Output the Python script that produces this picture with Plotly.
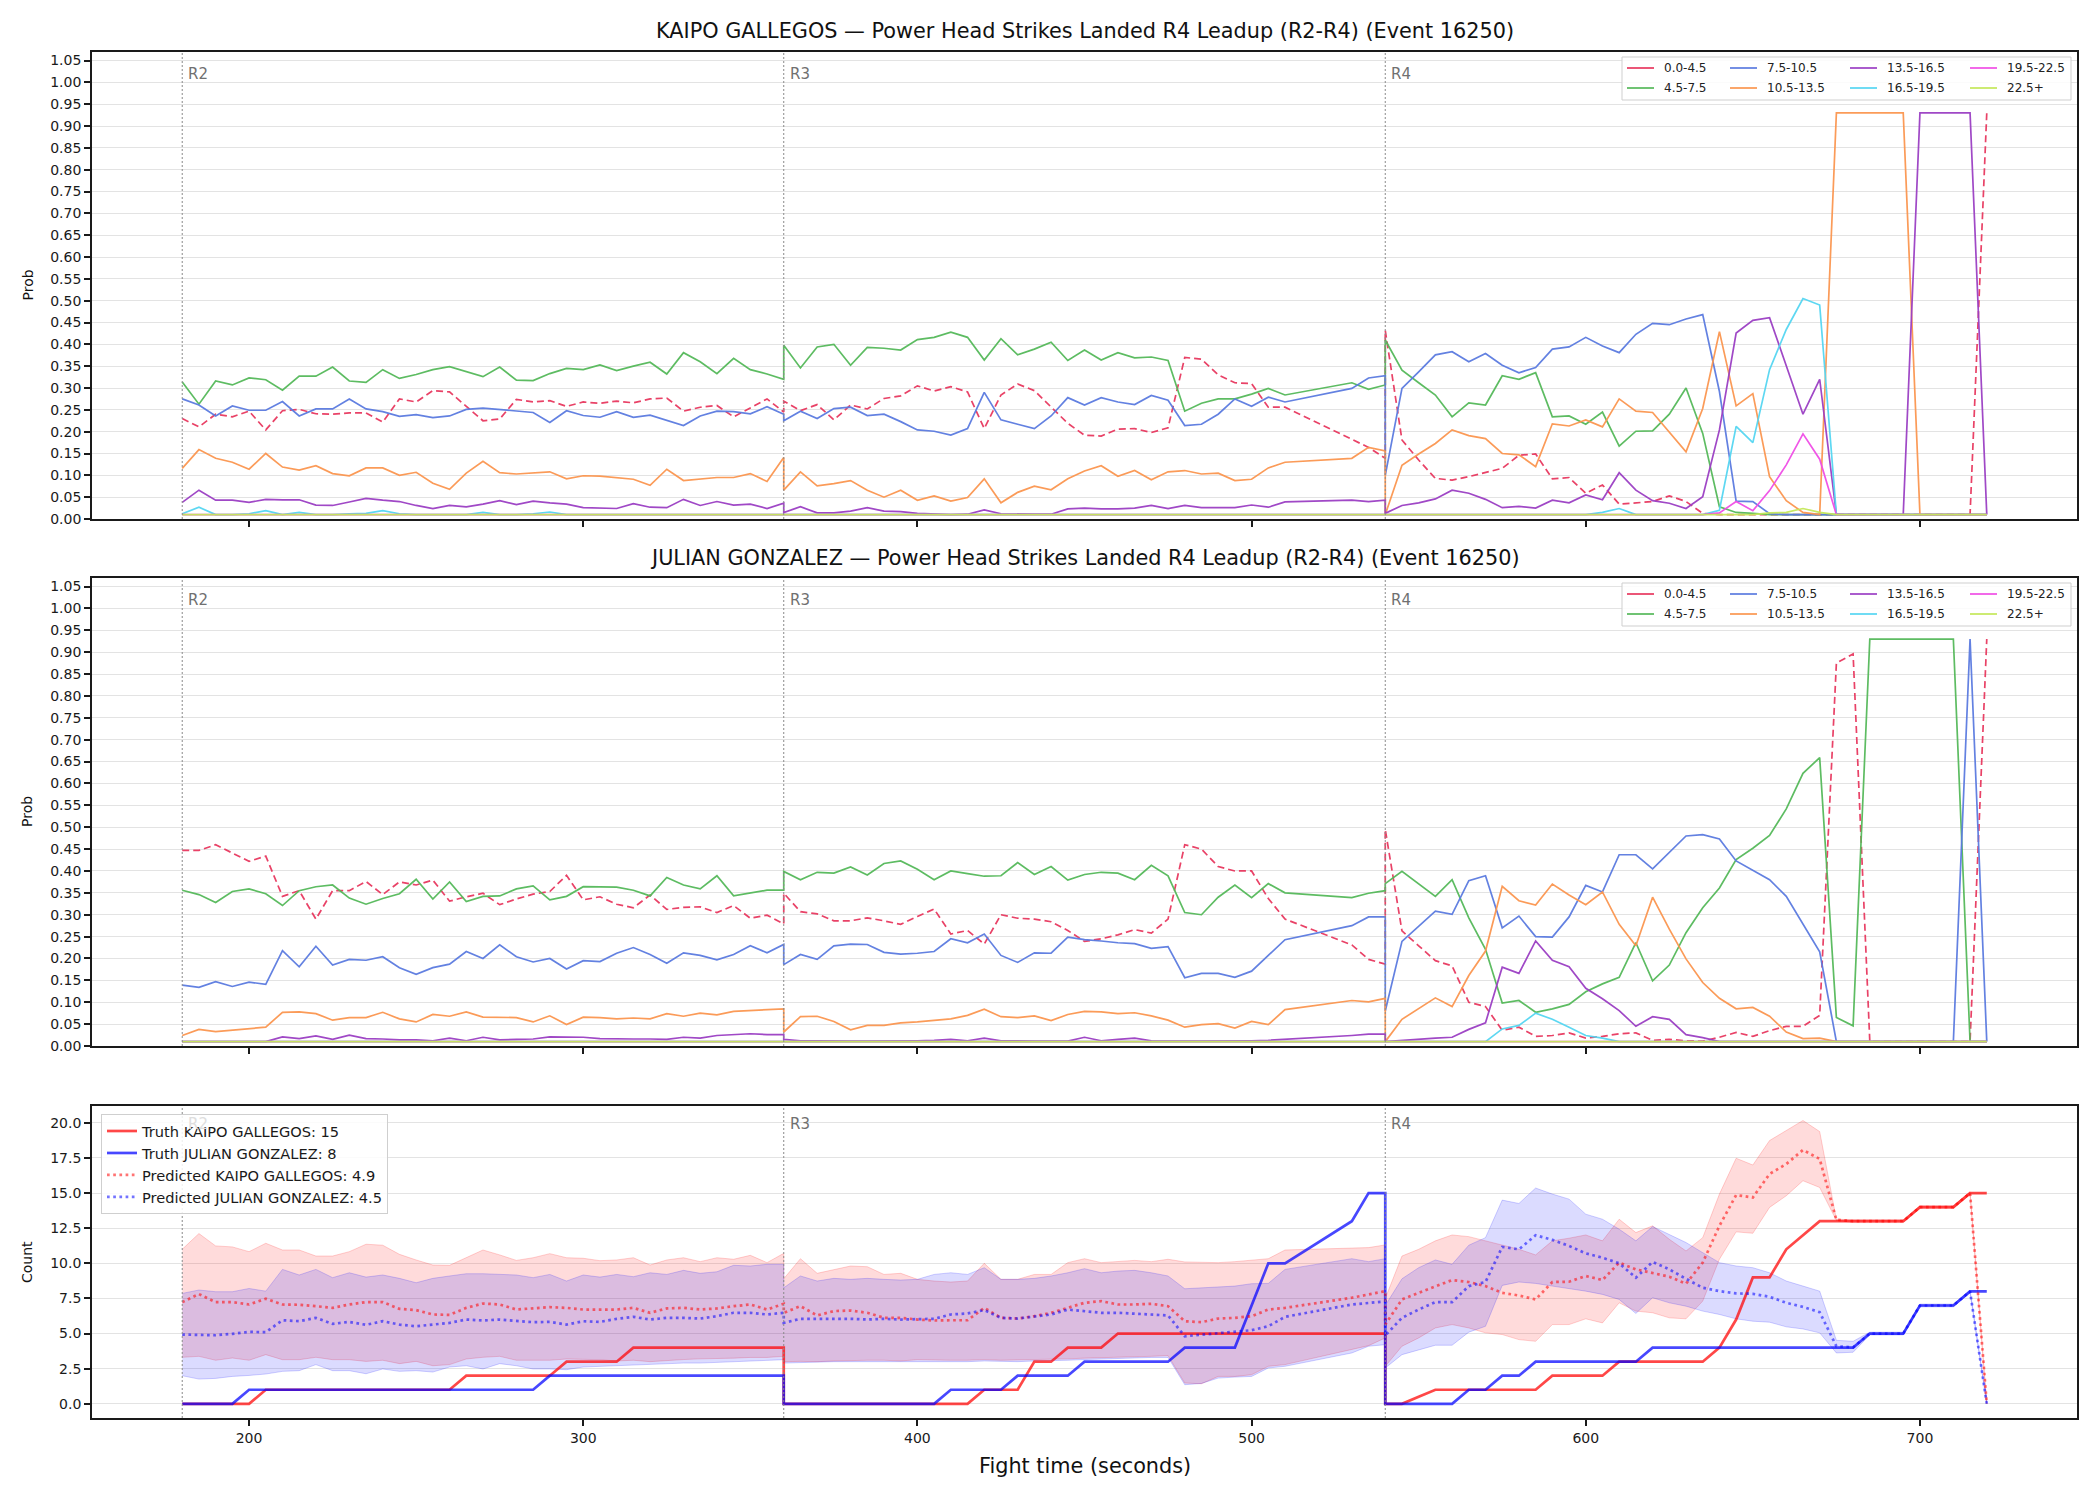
import plotly.graph_objects as go

# ---------------- DATA ----------------
T_R2 = [180, 185, 190, 195, 200, 205, 210, 215, 220, 225, 230, 235, 240, 245, 250, 255, 260, 265, 270,
        275, 280, 285, 290, 295, 300, 305, 310, 315, 320, 325, 330, 335, 340, 345, 350, 355, 360]
T_R3 = [360, 365, 370, 375, 380, 385, 390, 395, 400, 405, 410, 415, 420, 425, 430, 435, 440, 445, 450,
        455, 460, 465, 470, 475, 480, 485, 490, 495, 500, 505, 510, 530, 535, 540]
T_R4 = [540, 545, 550, 555, 560, 565, 570, 575, 580, 585, 590, 595, 600, 605, 610, 615, 620, 625, 630,
        635, 640, 645, 650, 655, 660, 665, 670, 675, 680, 685, 690, 695, 700, 705, 710, 715, 720]
TIME = T_R2 + T_R3 + T_R4

BUCKETS = ["0.0-4.5", "4.5-7.5", "7.5-10.5", "10.5-13.5", "13.5-16.5", "16.5-19.5", "19.5-22.5", "22.5+"]
ROUND_STARTS = [180, 360, 540]
ROUND_LABELS = ["R2", "R3", "R4"]
FIGHTER_A = "KAIPO GALLEGOS"
FIGHTER_B = "JULIAN GONZALEZ"
TRUTH_A, TRUTH_B = 15, 8
PRED_A, PRED_B = 4.9, 4.5

# --- KAIPO GALLEGOS probabilities (R2 | R3 | R4)
KG_00_45 = [.230, .211, .240, .234, .247, .204, .248, .251, .241, .240, .243, .243, .222, .275, .268, .294, .291, .257, .225,
            .229, .274, .268, .271, .258, .268, .265, .270, .266, .275, .277, .247, .256, .260, .234, .255, .275, .245,
            .270, .248, .262, .227, .261, .252, .276, .282, .305, .293, .303, .291, .207, .284, .309, .294, .257, .219,
            .192, .190, .206, .207, .198, .209, .370, .366, .330, .312, .310, .256, .256, .181, .164, .139,
            .432, .181, .135, .093, .089, .097, .106, .116, .146, .149, .092, .095, .059, .078, .034, .037, .040, .053,
            .040, .013, .010, .010, .010, .010, .010, .010, .010, .010, .010, .010, .010, .010, .010, .010, .010, .010, .930]
KG_45_75 = [.314, .263, .316, .307, .323, .319, .295, .327, .327, .348, .316, .313, .342, .322, .331, .342, .349, .337, .326,
            .348, .318, .317, .333, .345, .342, .353, .340, .350, .359, .332, .381, .360, .333, .368, .342, .332, .320,
            .398, .346, .394, .400, .352, .393, .391, .387, .411, .416, .428, .416, .364, .413, .376, .389, .405, .363,
            .387, .364, .381, .369, .371, .363, .247, .265, .275, .275, .286, .299, .284, .312, .297, .307,
            .410, .341, .312, .284, .234, .266, .261, .328, .320, .335, .234, .236, .217, .245, .167, .201, .202, .240,
            .300, .196, .028, .015, .013, .010, .010, .010, .010, .010, .010, .010, .010, .010, .010, .010, .010, .010, .010]
KG_75_105 = [.275, .261, .236, .259, .249, .249, .269, .236, .252, .252, .275, .252, .246, .235, .239, .232, .236, .251, .254,
             .251, .247, .244, .221, .248, .237, .233, .246, .233, .238, .226, .214, .236, .247, .246, .241, .257, .240,
             .225, .247, .230, .253, .256, .237, .240, .223, .204, .201, .192, .207, .290, .227, .217, .207, .236, .278,
             .261, .278, .268, .262, .283, .272, .214, .217, .240, .275, .258, .279, .268, .299, .323, .328,
             .100, .299, .337, .376, .383, .360, .379, .352, .335, .347, .389, .394, .416, .396, .381, .423, .448, .445,
             .458, .468, .292, .041, .040, .012, .010, .010, .010, .010, .010, .010, .010, .010, .010, .010, .010, .010, .010]
KG_105_135 = [.116, .159, .139, .130, .114, .150, .119, .112, .122, .104, .099, .117, .117, .100, .107, .082, .068, .105, .132,
              .106, .103, .105, .108, .092, .099, .098, .094, .091, .077, .114, .088, .092, .095, .095, .104, .086, .141,
              .066, .108, .076, .081, .088, .066, .050, .066, .043, .053, .041, .049, .092, .037, .061, .075, .067, .092,
              .110, .122, .098, .111, .090, .108, .111, .103, .105, .088, .091, .117, .130, .139, .164, .156,
              .010, .123, .149, .173, .204, .191, .184, .150, .147, .120, .218, .213, .227, .211, .275, .247, .244, .200,
              .154, .253, .429, .259, .287, .097, .042, .015, .010, .930, .930, .930, .930, .930, .010, .010, .010, .010, .010]
KG_135_165 = [.038, .066, .043, .043, .038, .045, .044, .044, .032, .031, .039, .047, .043, .040, .031, .024, .031, .028, .034,
              .042, .033, .041, .037, .034, .026, .025, .024, .035, .027, .026, .045, .031, .040, .032, .034, .024, .036,
              .015, .028, .014, .014, .018, .026, .018, .017, .013, .011, .010, .011, .021, .012, .011, .011, .011, .023,
              .025, .023, .023, .025, .031, .024, .031, .026, .026, .026, .032, .027, .039, .043, .040, .043,
              .013, .031, .037, .046, .066, .059, .045, .026, .029, .025, .043, .037, .055, .044, .106, .066, .042, .036,
              .024, .051, .204, .426, .455, .461, .351, .240, .320, .010, .010, .010, .010, .010, .930, .930, .930, .930, .010]
KG_165_195 = [.012, .027, .010, .010, .012, .019, .010, .015, .010, .010, .012, .013, .019, .012, .010, .010, .010, .010, .015,
              .010, .010, .012, .016, .010, .010, .010, .010, .010, .010, .010, .010, .010, .010, .010, .010, .010, .010,
              .010, .010, .010, .010, .010, .010, .010, .010, .010, .010, .010, .010, .010, .010, .010, .010, .010, .010,
              .010, .010, .010, .010, .010, .010, .010, .010, .010, .010, .010, .010, .010, .010, .010, .010,
              .010, .010, .010, .010, .010, .010, .010, .010, .010, .010, .010, .010, .010, .015, .024, .010, .010, .010,
              .010, .010, .020, .212, .175, .342, .434, .505, .490, .010, .010, .010, .010, .010, .010, .010, .010, .010, .010]
KG_195_225 = [.010, .010, .010, .010, .010, .010, .010, .010, .010, .010, .010, .010, .010, .010, .010, .010, .010, .010, .010,
              .010, .010, .010, .010, .010, .010, .010, .010, .010, .010, .010, .010, .010, .010, .010, .010, .010, .010,
              .010, .010, .010, .010, .010, .010, .010, .010, .010, .010, .010, .010, .010, .010, .010, .010, .010, .010,
              .010, .010, .010, .010, .010, .010, .010, .010, .010, .010, .010, .010, .010, .010, .010, .010,
              .010, .010, .010, .010, .010, .010, .010, .010, .010, .010, .010, .010, .010, .010, .010, .010, .010, .010,
              .010, .010, .014, .040, .019, .065, .124, .195, .137, .010, .010, .010, .010, .010, .010, .010, .010, .010, .010]
KG_225_UP = [.010, .010, .010, .010, .010, .010, .010, .010, .010, .010, .010, .010, .010, .010, .010, .010, .010, .010, .010,
             .010, .010, .010, .010, .010, .010, .010, .010, .010, .010, .010, .010, .010, .010, .010, .010, .010, .010,
             .010, .010, .010, .010, .010, .010, .010, .010, .010, .010, .010, .010, .010, .010, .010, .010, .010, .010,
             .010, .010, .010, .010, .010, .010, .010, .010, .010, .010, .010, .010, .010, .010, .010, .010,
             .010, .010, .010, .010, .010, .010, .010, .010, .010, .010, .010, .010, .010, .010, .010, .010, .010, .010,
             .010, .010, .010, .010, .010, .014, .015, .024, .015, .010, .010, .010, .010, .010, .010, .010, .010, .010, .010]

# --- JULIAN GONZALEZ probabilities (R2 | R3 | R4)
JG_00_45 = [.447, .447, .460, .441, .422, .434, .342, .355, .290, .355, .355, .376, .346, .375, .368, .379, .331, .341, .349,
            .323, .336, .347, .353, .390, .334, .341, .324, .316, .345, .312, .317, .318, .305, .321, .292, .299, .279,
            .349, .307, .302, .286, .286, .293, .286, .278, .296, .313, .256, .264, .233, .300, .292, .290, .284, .264,
            .239, .245, .254, .266, .258, .290, .460, .450, .410, .400, .400, .337, .290, .231, .198, .187,
            .495, .263, .229, .195, .183, .100, .090, .036, .043, .022, .024, .030, .018, .022, .028, .030, .013, .015,
            .012, .011, .020, .031, .022, .035, .045, .045, .070, .875, .896, .010, .010, .010, .010, .010, .010, .010, .930]
JG_45_75 = [.356, .346, .328, .353, .359, .348, .321, .355, .364, .368, .338, .324, .337, .348, .381, .336, .375, .330, .342,
            .343, .359, .366, .334, .342, .364, .364, .363, .356, .343, .385, .368, .359, .389, .343, .349, .356, .356,
            .399, .380, .397, .395, .409, .391, .417, .423, .404, .380, .400, .394, .388, .389, .419, .392, .410, .379,
            .392, .397, .395, .380, .413, .389, .305, .300, .340, .368, .339, .371, .350, .339, .349, .355,
            .371, .399, .371, .342, .380, .293, .221, .098, .104, .077, .085, .095, .124, .142, .157, .236, .149, .185,
            .259, .316, .361, .426, .452, .481, .542, .623, .659, .065, .046, .930, .930, .930, .930, .930, .930, .010, .010]
JG_75_105 = [.139, .134, .147, .136, .146, .141, .218, .181, .228, .185, .198, .196, .204, .179, .164, .179, .187, .216, .200,
             .231, .204, .192, .200, .176, .195, .193, .212, .225, .209, .189, .213, .207, .197, .209, .229, .213, .232,
             .186, .209, .198, .229, .233, .232, .214, .210, .212, .216, .245, .236, .256, .207, .191, .213, .212, .249,
             .243, .240, .236, .234, .223, .227, .156, .166, .166, .157, .171, .207, .243, .275, .295, .295,
             .080, .239, .274, .308, .301, .378, .389, .270, .297, .250, .249, .295, .367, .352, .437, .437, .405, .442,
             .480, .483, .473, .423, .401, .380, .342, .280, .215, .010, .010, .010, .010, .010, .010, .010, .010, .930, .010]
JG_105_135 = [.024, .038, .033, .036, .039, .043, .077, .078, .074, .059, .065, .065, .077, .062, .055, .072, .068, .078, .066,
              .066, .065, .055, .069, .049, .066, .065, .062, .064, .062, .074, .068, .075, .071, .079, .081, .083, .085,
              .032, .067, .068, .056, .037, .047, .047, .053, .055, .058, .062, .070, .084, .067, .065, .069, .058, .072,
              .079, .078, .074, .076, .069, .059, .043, .049, .051, .041, .056, .049, .083, .104, .101, .109,
              .010, .061, .085, .110, .090, .161, .217, .365, .332, .322, .370, .345, .323, .352, .278, .229, .340, .267,
              .199, .145, .109, .085, .088, .068, .032, .017, .018, .010, .010, .010, .010, .010, .010, .010, .010, .010, .010]
JG_135_165 = [.010, .010, .010, .010, .010, .010, .021, .017, .023, .015, .025, .017, .016, .014, .014, .012, .018, .012, .020,
              .014, .015, .016, .021, .021, .020, .017, .016, .016, .016, .015, .020, .018, .024, .026, .028, .026, .026,
              .015, .012, .012, .011, .011, .011, .011, .012, .012, .013, .015, .012, .018, .012, .011, .011, .011, .011,
              .020, .012, .015, .018, .012, .011, .011, .011, .011, .011, .012, .013, .015, .024, .027, .027,
              .010, .013, .015, .018, .020, .038, .053, .180, .166, .240, .196, .181, .132, .108, .081, .045, .067, .061,
              .026, .019, .010, .010, .010, .010, .010, .010, .010, .010, .010, .010, .010, .010, .010, .010, .010, .010, .010]
JG_165_195 = [.010, .010, .010, .010, .010, .010, .010, .010, .010, .010, .010, .010, .010, .010, .010, .010, .010, .010, .010,
              .010, .010, .010, .010, .010, .010, .010, .010, .010, .010, .010, .010, .010, .010, .010, .010, .010, .010,
              .010, .010, .010, .010, .010, .010, .010, .010, .010, .010, .010, .010, .010, .010, .010, .010, .010, .010,
              .010, .010, .010, .010, .010, .010, .010, .010, .010, .010, .010, .010, .010, .010, .010, .010,
              .010, .010, .010, .010, .010, .010, .010, .039, .047, .075, .061, .043, .024, .018, .010, .010, .010, .010,
              .010, .010, .010, .010, .010, .010, .010, .010, .010, .010, .010, .010, .010, .010, .010, .010, .010, .010, .010]
JG_195_225 = [.010, .010, .010, .010, .010, .010, .010, .010, .010, .010, .010, .010, .010, .010, .010, .010, .010, .010, .010,
              .010, .010, .010, .010, .010, .010, .010, .010, .010, .010, .010, .010, .010, .010, .010, .010, .010, .010,
              .010, .010, .010, .010, .010, .010, .010, .010, .010, .010, .010, .010, .010, .010, .010, .010, .010, .010,
              .010, .010, .010, .010, .010, .010, .010, .010, .010, .010, .010, .010, .010, .010, .010, .010,
              .010, .010, .010, .010, .010, .010, .010, .010, .010, .010, .010, .010, .010, .010, .010, .010, .010, .010,
              .010, .010, .010, .010, .010, .010, .010, .010, .010, .010, .010, .010, .010, .010, .010, .010, .010, .010, .010]
JG_225_UP = list(JG_195_225)

# --- Counts panel (R2 | R3 | R4)
KG_TRUTH = [0, 0, 0, 0, 0, 1, 1, 1, 1, 1, 1, 1, 1, 1, 1, 1, 1, 2, 2, 2, 2, 2, 2, 3, 3, 3, 3, 4, 4, 4, 4, 4, 4, 4, 4, 4, 4,
            0, 0, 0, 0, 0, 0, 0, 0, 0, 0, 0, 0, 1, 1, 1, 3, 3, 4, 4, 4, 5, 5, 5, 5, 5, 5, 5, 5, 5, 5, 5, 5, 5, 5,
            0, 0, 0.5, 1, 1, 1, 1, 1, 1, 1, 2, 2, 2, 2, 3, 3, 3, 3, 3, 3, 4, 6, 9, 9, 11, 12, 13, 13, 13, 13, 13, 13,
            14, 14, 14, 15, 15]
JG_TRUTH = [0, 0, 0, 0, 1, 1, 1, 1, 1, 1, 1, 1, 1, 1, 1, 1, 1, 1, 1, 1, 1, 1, 2, 2, 2, 2, 2, 2, 2, 2, 2, 2, 2, 2, 2, 2, 2,
            0, 0, 0, 0, 0, 0, 0, 0, 0, 0, 1, 1, 1, 1, 2, 2, 2, 2, 3, 3, 3, 3, 3, 3, 4, 4, 4, 4, 7, 10, 10, 13, 15, 15,
            0, 0, 0, 0, 0, 1, 1, 2, 2, 3, 3, 3, 3, 3, 3, 3, 4, 4, 4, 4, 4, 4, 4, 4, 4, 4, 4, 4, 4, 5, 5, 5, 7, 7, 7, 8, 8]
KG_PRED = [7.24, 7.81, 7.24, 7.24, 7.07, 7.48, 7.07, 7.05, 6.95, 6.83, 7.07, 7.24, 7.24, 6.76, 6.67, 6.36, 6.33, 6.83, 7.14,
           7.07, 6.71, 6.81, 6.88, 6.83, 6.71, 6.71, 6.71, 6.83, 6.48, 6.79, 6.83, 6.71, 6.79, 6.95, 7.07, 6.71, 7.12,
           6.48, 6.95, 6.29, 6.60, 6.64, 6.48, 6.12, 6.12, 6.00, 5.93, 5.95, 5.95, 6.83, 6.12, 6.07, 6.24, 6.48, 6.83,
           7.19, 7.31, 7.07, 7.07, 7.12, 6.95, 5.88, 5.81, 6.07, 6.12, 6.24, 6.71, 6.83, 7.55, 7.81, 8.02,
           5.64, 7.43, 7.90, 8.38, 8.81, 8.67, 8.38, 7.90, 7.71, 7.43, 8.67, 8.69, 9.10, 8.81, 10.05, 9.57, 9.29, 9.05,
           8.55, 10.05, 12.67, 14.86, 14.69, 16.36, 17.07, 18.07, 17.43, 13.10, 13.0, 13.0, 13.0, 13.0, 14.0, 14.0, 14.0,
           15.0, 0.0]
JG_PRED = [4.93, 4.93, 4.88, 4.98, 5.12, 5.10, 5.95, 5.88, 6.12, 5.69, 5.83, 5.62, 5.88, 5.64, 5.52, 5.64, 5.76, 6.00, 5.93,
           6.00, 5.93, 5.81, 5.83, 5.64, 5.88, 5.83, 6.05, 6.19, 6.00, 6.12, 6.12, 6.07, 6.24, 6.48, 6.48, 6.36, 6.48,
           5.76, 6.05, 6.05, 6.07, 6.05, 6.00, 6.05, 6.00, 6.05, 6.05, 6.36, 6.43, 6.67, 6.12, 6.07, 6.24, 6.36, 6.71,
           6.60, 6.48, 6.48, 6.43, 6.36, 6.29, 4.81, 4.93, 5.05, 5.17, 5.24, 5.52, 6.19, 7.07, 7.19, 7.29,
           4.86, 6.12, 6.71, 7.24, 7.24, 8.38, 8.67, 11.17, 11.00, 12.00, 11.67, 11.24, 10.71, 10.40, 10.00, 8.98, 10.10,
           9.57, 8.90, 8.26, 8.02, 7.86, 7.83, 7.62, 7.19, 6.90, 6.52, 4.10, 4.02, 5.0, 5.0, 5.0, 7.0, 7.0, 7.0, 8.0, 0.0]
KG_HI = [11.0, 12.12, 11.24, 11.17, 10.83, 11.43, 10.95, 10.95, 10.52, 10.52, 10.83, 11.36, 11.29, 10.64, 10.24, 9.88, 9.86,
         10.40, 10.95, 10.60, 10.21, 10.40, 10.69, 10.40, 10.36, 10.19, 10.24, 10.40, 9.88, 10.24, 10.40, 10.12, 10.40, 10.29,
         10.57, 10.05, 10.71,
         8.90, 10.33, 9.29, 9.57, 9.81, 9.76, 9.21, 9.29, 8.86, 8.74, 8.67, 8.74, 10.00, 8.86, 8.86, 9.21, 9.21, 10.05, 10.33,
         10.05, 10.12, 10.21, 10.12, 10.29, 10.10, 10.05, 10.05, 10.12, 10.21, 10.33, 10.95, 11.05, 11.12, 11.31,
         7.50, 10.52, 11.00, 11.60, 12.02, 11.90, 11.60, 11.29, 11.00, 10.60, 11.60, 11.79, 12.02, 11.60, 13.14, 12.19, 12.67,
         11.71, 10.88, 11.83, 14.93, 17.48, 17.00, 18.74, 19.45, 20.17, 19.38, 13.14, 13.1, 13.1, 13.1, 13.1, 14.1, 14.1, 14.1,
         15.1, 0.0]
KG_LO = [3.31, 3.38, 3.10, 3.26, 3.10, 3.50, 3.14, 3.14, 3.31, 3.14, 3.14, 3.02, 3.10, 2.86, 3.02, 2.71, 2.79, 3.19, 3.31,
         3.38, 3.10, 3.10, 3.10, 3.19, 3.19, 3.14, 3.05, 3.10, 3.00, 3.10, 3.15, 3.20, 3.20, 3.25, 3.30, 3.30, 3.38,
         3.00, 3.02, 3.00, 3.05, 3.10, 3.10, 3.10, 3.05, 3.14, 3.10, 3.10, 3.10, 3.15, 3.10, 3.12, 3.15, 3.15, 3.20, 3.25,
         3.30, 3.35, 3.35, 3.38, 3.43, 1.48, 1.43, 1.95, 1.95, 2.07, 2.67, 2.79, 3.86, 4.14, 4.69,
         2.67, 4.10, 4.69, 5.40, 5.64, 5.40, 5.05, 4.93, 4.57, 4.45, 5.64, 5.64, 6.05, 5.76, 7.19, 6.60, 6.48, 6.12, 6.05,
         7.31, 10.29, 12.24, 12.14, 13.98, 14.81, 15.88, 15.40, 13.05, 12.9, 12.9, 12.9, 12.9, 13.9, 13.9, 13.9, 14.9, 0.0]
JG_HI = [7.86, 8.10, 7.98, 7.98, 8.21, 8.02, 9.57, 9.17, 9.57, 8.98, 9.33, 9.02, 9.17, 8.93, 8.62, 8.93, 9.10, 9.26, 9.26,
         9.19, 9.17, 8.98, 9.21, 8.74, 9.17, 9.02, 9.21, 9.05, 9.33, 9.21, 9.50, 9.29, 9.40, 9.86, 9.81, 9.93, 9.93,
         8.26, 9.10, 8.74, 8.93, 8.86, 8.93, 8.86, 8.81, 8.86, 9.21, 9.33, 9.21, 9.69, 8.86, 8.86, 8.93, 9.10, 9.33, 9.62,
         9.33, 9.45, 9.50, 9.33, 9.10, 8.19, 8.26, 8.33, 8.38, 8.55, 8.57, 9.57, 10.33, 10.12, 10.33,
         7.00, 8.90, 9.69, 10.24, 9.93, 11.29, 11.83, 14.50, 14.26, 15.36, 14.93, 14.57, 13.50, 13.14, 12.43, 11.60, 12.62,
         12.07, 11.48, 10.76, 10.05, 9.81, 9.69, 9.33, 8.74, 8.38, 8.02, 4.52, 4.45, 5.1, 5.1, 5.1, 7.1, 7.1, 7.1, 8.1, 0.0]
JG_LO = [2.00, 1.76, 1.81, 1.95, 2.02, 2.12, 2.31, 2.36, 2.79, 2.36, 2.36, 2.14, 2.48, 2.31, 2.36, 2.26, 2.62, 2.71, 2.48,
         2.86, 2.71, 2.48, 2.48, 2.43, 2.62, 2.67, 2.75, 2.80, 2.80, 2.85, 2.90, 2.90, 2.95, 3.00, 3.05, 3.10, 3.14,
         2.90, 2.95, 2.95, 3.00, 3.00, 3.00, 3.00, 2.95, 3.00, 2.95, 3.00, 3.00, 3.05, 3.00, 3.00, 3.05, 3.05, 3.10, 3.15,
         3.20, 3.20, 3.25, 3.30, 3.30, 1.36, 1.45, 1.83, 1.90, 1.95, 2.55, 2.67, 3.62, 4.10, 4.21,
         2.55, 3.50, 3.86, 4.17, 4.17, 5.10, 5.52, 8.43, 8.67, 8.57, 8.38, 8.21, 8.02, 7.79, 7.43, 6.43, 7.55, 7.19, 6.95,
         6.60, 6.36, 6.05, 5.88, 5.81, 5.48, 5.33, 5.05, 3.62, 3.67, 4.9, 4.9, 4.9, 6.9, 6.9, 6.9, 7.9, 0.0]

KG_PROBS = [KG_00_45, KG_45_75, KG_75_105, KG_105_135, KG_135_165, KG_165_195, KG_195_225, KG_225_UP]
JG_PROBS = [JG_00_45, JG_45_75, JG_75_105, JG_105_135, JG_135_165, JG_165_195, JG_195_225, JG_225_UP]
_named = {k: v for k, v in globals().items() if k.startswith(("KG_", "JG_")) and isinstance(v, list)
          and v and not isinstance(v[0], list)}
_bad = {k: len(v) for k, v in _named.items() if len(v) != len(TIME)}
if _bad:
    raise SystemExit(f"length mismatch (need {len(TIME)}): {_bad}")

# ---------------- STYLE ----------------
COLORS = ["#e8385f", "#55b95a", "#5b7be0", "#fb9650", "#9b3fc4", "#55d6f2", "#f04ee6", "#c5e85a"]
FONT = "DejaVu Sans"
W, H = 2100, 1500
ML, MR, MT, MB = 92, 23, 52, 82
PW, PH = W - ML - MR, H - MT - MB


def px_x(px):
    return (px - ML) / PW


def px_y(py):
    return (H - MB - py) / PH


PANELS = {"top": (52, 519), "mid": (578, 1046), "bot": (1106, 1418)}

fig = go.Figure()

# probability panels
for probs, xa, ya in [(KG_PROBS, "x", "y"), (JG_PROBS, "x2", "y2")]:
    for i, (name, col, vals) in enumerate(zip(BUCKETS, COLORS, probs)):
        fig.add_trace(go.Scatter(
            x=TIME, y=vals, mode="lines", name=name, showlegend=False, xaxis=xa, yaxis=ya,
            line=dict(color=col, width=1.7, dash="7px,4px" if i == 0 else "solid"), opacity=0.95))

# count panel: bands
for hi, lo, rgb in [(KG_HI, KG_LO, "255,0,0"), (JG_HI, JG_LO, "0,0,255")]:
    fig.add_trace(go.Scatter(x=TIME, y=hi, mode="lines", showlegend=False, xaxis="x3", yaxis="y3",
                             line=dict(color=f"rgba({rgb},0.18)", width=1)))
    fig.add_trace(go.Scatter(x=TIME, y=lo, mode="lines", showlegend=False, xaxis="x3", yaxis="y3",
                             fill="tonexty", fillcolor=f"rgba({rgb},0.14)",
                             line=dict(color=f"rgba({rgb},0.18)", width=1)))

fig.add_trace(go.Scatter(x=TIME, y=KG_TRUTH, mode="lines", name=f"Truth {FIGHTER_A}: {TRUTH_A}",
                         xaxis="x3", yaxis="y3", line=dict(color="rgba(255,0,0,0.72)", width=2.7)))
fig.add_trace(go.Scatter(x=TIME, y=JG_TRUTH, mode="lines", name=f"Truth {FIGHTER_B}: {TRUTH_B}",
                         xaxis="x3", yaxis="y3", line=dict(color="rgba(0,0,255,0.72)", width=2.7)))
fig.add_trace(go.Scatter(x=TIME, y=KG_PRED, mode="lines", name=f"Predicted {FIGHTER_A}: {PRED_A}",
                         xaxis="x3", yaxis="y3", line=dict(color="rgba(255,0,0,0.55)", width=2.7, dash="2.7px,3.5px")))
fig.add_trace(go.Scatter(x=TIME, y=JG_PRED, mode="lines", name=f"Predicted {FIGHTER_B}: {PRED_B}",
                         xaxis="x3", yaxis="y3", line=dict(color="rgba(0,0,255,0.55)", width=2.7, dash="2.7px,3.5px")))

shapes, annos = [], []

# round markers
for xa, key in [("x", "top"), ("x2", "mid"), ("x3", "bot")]:
    ydom = xa.replace("x", "y") + " domain"
    for t, lab in zip(ROUND_STARTS, ROUND_LABELS):
        shapes.append(dict(type="line", xref=xa, yref=ydom, x0=t, x1=t, y0=0, y1=1,
                           line=dict(color="#8a8a8a", width=1, dash="2px,2px"), layer="above"))
        top = PANELS[key][0]
        yc = top + (22 if key != "bot" else 18)
        # in the count panel the R2 label sits behind the semi-transparent legend box
        hidden = key == "bot" and t == ROUND_STARTS[0]
        annos.append(dict(text=lab, xref=xa, yref="paper", x=t, y=px_y(yc), xanchor="left", yanchor="middle",
                          xshift=4, showarrow=False,
                          font=dict(family=FONT, size=15, color="#dedede" if hidden else "#707070")))

# manual 4-column legends for probability panels
COL_X = [1627, 1730, 1850, 1970]
for key in ["top", "mid"]:
    off = PANELS[key][0] - 52
    shapes.append(dict(type="rect", xref="paper", yref="paper", x0=px_x(1622), x1=px_x(2071),
                       y0=px_y(100 + off), y1=px_y(57 + off), fillcolor="rgba(255,255,255,0.85)",
                       line=dict(color="#cfcfcf", width=1), layer="above"))
    for c in range(4):
        for r in range(2):
            idx = c * 2 + r
            yy = px_y((68 if r == 0 else 88) + off)
            shapes.append(dict(type="line", xref="paper", yref="paper", x0=px_x(COL_X[c]), x1=px_x(COL_X[c] + 27),
                               y0=yy, y1=yy, line=dict(color=COLORS[idx], width=1.7), layer="above"))
            annos.append(dict(text=BUCKETS[idx], xref="paper", yref="paper", x=px_x(COL_X[c] + 35), y=yy,
                              xanchor="left", yanchor="middle", showarrow=False,
                              font=dict(family=FONT, size=12, color="#222")))

# titles and axis labels
annos.append(dict(text=f"{FIGHTER_A} — Power Head Strikes Landed R4 Leadup (R2-R4) (Event 16250)",
                  xref="paper", yref="paper", x=0.5, y=px_y(31), xanchor="center", yanchor="middle",
                  showarrow=False, font=dict(family=FONT, size=20.8, color="#111")))
annos.append(dict(text=f"{FIGHTER_B} — Power Head Strikes Landed R4 Leadup (R2-R4) (Event 16250)",
                  xref="paper", yref="paper", x=0.5, y=px_y(558), xanchor="center", yanchor="middle",
                  showarrow=False, font=dict(family=FONT, size=20.8, color="#111")))
for txt, key in [("Prob", "top"), ("Prob", "mid"), ("Count", "bot")]:
    a, b = PANELS[key]
    annos.append(dict(text=txt, xref="paper", yref="paper", x=px_x(27), y=px_y((a + b) / 2), textangle=-90,
                      xanchor="center", yanchor="middle", showarrow=False,
                      font=dict(family=FONT, size=14, color="#111")))
annos.append(dict(text="Fight time (seconds)", xref="paper", yref="paper", x=0.5, y=px_y(1466),
                  xanchor="center", yanchor="middle", showarrow=False,
                  font=dict(family=FONT, size=20.8, color="#111")))

axis_common = dict(showline=True, linecolor="#1a1a1a", linewidth=1.7, mirror=True, ticks="outside",
                   ticklen=6, tickwidth=1.5, tickcolor="#1a1a1a", zeroline=False,
                   tickfont=dict(family=FONT, size=14, color="#1a1a1a"))
xa_common = dict(axis_common, range=[153, 747], tickvals=[200, 300, 400, 500, 600, 700], showgrid=False)
ya_prob = dict(axis_common, range=[0, 1.0695], dtick=0.05, tick0=0, tickformat=".2f", showgrid=True,
               gridcolor="#e3e3e3", gridwidth=1)

fig.update_layout(
    width=W, height=H, margin=dict(l=ML, r=MR, t=MT, b=MB),
    paper_bgcolor="white", plot_bgcolor="white",
    font=dict(family=FONT, size=14, color="#1a1a1a"),
    xaxis=dict(xa_common, domain=[0, 1], anchor="y", showticklabels=False),
    xaxis2=dict(xa_common, domain=[0, 1], anchor="y2", showticklabels=False),
    xaxis3=dict(xa_common, domain=[0, 1], anchor="y3"),
    yaxis=dict(ya_prob, domain=[px_y(519), px_y(52)], anchor="x"),
    yaxis2=dict(ya_prob, domain=[px_y(1046), px_y(578)], anchor="x2"),
    yaxis3=dict(axis_common, domain=[px_y(1418), px_y(1106)], anchor="x3", range=[-1.01, 21.2], dtick=2.5,
                tick0=0, tickformat=".1f", showgrid=True, gridcolor="#e3e3e3", gridwidth=1),
    showlegend=True,
    legend=dict(x=px_x(101), y=px_y(1114), xanchor="left", yanchor="top", bgcolor="rgba(255,255,255,0.85)",
                bordercolor="#cfcfcf", borderwidth=1, font=dict(family=FONT, size=14.6, color="#1a1a1a"),
                tracegroupgap=0, traceorder="normal"),
    shapes=shapes, annotations=annos,
)

fig.write_html("out.html")
